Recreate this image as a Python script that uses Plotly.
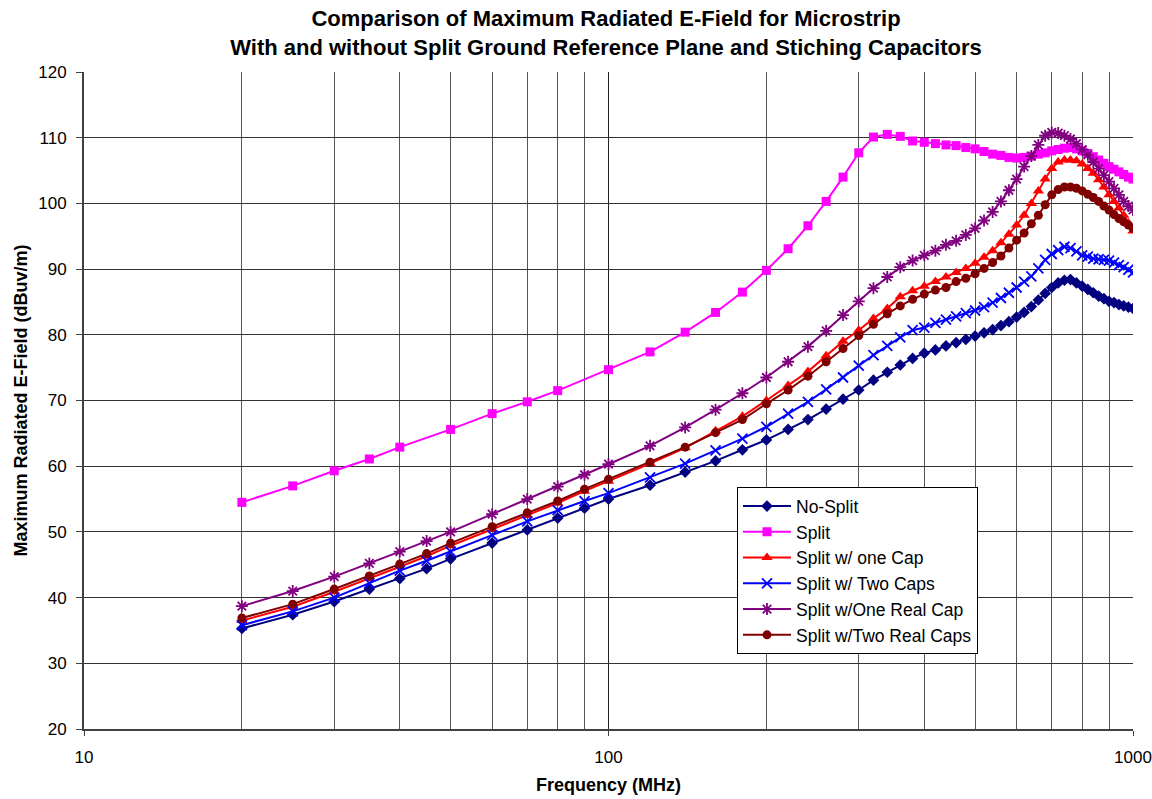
import plotly.graph_objects as go

# Frequencies (MHz)
freq = [20, 25, 30, 35, 40, 45, 50, 60, 70, 80, 90, 100,
        120, 140, 160, 180, 200, 220, 240, 260, 280,
        300, 320, 340, 360, 380, 400, 420, 440, 460, 480, 500, 520, 540, 560, 580,
        600, 620, 640, 660, 680, 700, 720, 740, 760, 780, 800, 820, 840, 860, 880,
        900, 920, 940, 960, 980, 1000]
freq_split = [20, 25, 30, 35, 40, 50, 60, 70, 80, 100,
              120, 140, 160, 180, 200, 220, 240, 260, 280,
              300, 320, 340, 360, 380, 400, 420, 440, 460, 480, 500, 520, 540, 560, 580,
              600, 620, 640, 660, 680, 700, 720, 740, 760, 780, 800, 820, 840, 860, 880,
              900, 920, 940, 960, 980, 1000]

no_split = [35.3, 37.4, 39.4, 41.3, 42.9, 44.4, 45.9, 48.3, 50.3, 52.1, 53.6, 55.0,
            57.1, 59.1, 60.8, 62.5, 64.0, 65.6, 67.1, 68.7, 70.2,
            71.6, 73.1, 74.3, 75.4, 76.4, 77.2, 77.7, 78.3, 78.8, 79.3, 79.8, 80.3, 80.8, 81.4, 82.0,
            82.7, 83.4, 84.3, 85.3, 86.3, 87.2, 87.9, 88.3, 88.4, 87.9, 87.4, 86.9, 86.4, 85.9, 85.5,
            85.1, 84.9, 84.6, 84.4, 84.2, 84.0]
split = [54.5, 57.0, 59.3, 61.1, 62.9, 65.6, 68.0, 69.8, 71.5, 74.7,
         77.4, 80.4, 83.4, 86.5, 89.8, 93.1, 96.6, 100.3, 104.0,
         107.7, 110.1, 110.5, 110.2, 109.5, 109.3, 109.1, 108.9, 108.8, 108.5, 108.3, 107.9, 107.5, 107.3, 107.0,
         106.9, 107.0, 107.2, 107.5, 107.7, 108.0, 108.2, 108.4, 108.5, 108.3, 108.0, 107.6, 107.1, 106.6, 106.1,
         105.6, 105.2, 104.8, 104.4, 104.0, 103.7]
one_cap = [36.5, 38.6, 40.9, 42.9, 44.7, 46.3, 47.9, 50.4, 52.5, 54.4, 56.2, 57.7,
           60.4, 62.8, 65.4, 67.6, 70.0, 72.3, 74.4, 76.8, 79.0,
           80.7, 82.5, 84.0, 85.8, 86.7, 87.4, 88.1, 88.8, 89.5, 90.1, 90.9, 91.8, 92.8, 94.0, 95.3,
           96.7, 98.2, 100.0, 101.9, 103.7, 105.3, 106.3, 106.6, 106.6, 106.5, 106.0, 105.3, 104.6, 103.6, 102.5,
           101.3, 100.3, 99.3, 98.2, 97.0, 95.8]
two_caps = [35.8, 37.9, 40.0, 42.2, 44.1, 45.6, 47.0, 49.5, 51.6, 53.3, 54.7, 55.9,
            58.3, 60.4, 62.4, 64.2, 66.0, 68.0, 69.8, 71.7, 73.5,
            75.3, 76.9, 78.3, 79.6, 80.7, 81.1, 81.8, 82.3, 82.8, 83.3, 83.7, 84.2, 84.9, 85.6, 86.4,
            87.2, 88.1, 88.9, 90.1, 91.4, 92.3, 92.9, 93.4, 93.2, 92.7, 92.1, 91.9, 91.6, 91.5, 91.4,
            91.3, 91.0, 90.6, 90.3, 89.9, 89.5]
one_real = [38.7, 41.0, 43.2, 45.2, 47.0, 48.6, 50.0, 52.7, 55.0, 56.9, 58.7, 60.3,
            63.1, 65.9, 68.6, 71.1, 73.5, 75.9, 78.2, 80.6, 83.0,
            85.1, 87.1, 88.8, 90.3, 91.3, 92.1, 92.8, 93.7, 94.3, 95.2, 96.2, 97.4, 98.7, 100.3, 102.0,
            103.7, 105.6, 107.2, 108.9, 110.3, 110.8, 110.7, 110.3, 109.8, 109.1, 108.2, 107.4, 106.3, 105.3, 104.3,
            103.3, 102.3, 101.3, 100.3, 99.6, 99.0]
two_real = [36.9, 39.0, 41.3, 43.3, 45.1, 46.7, 48.3, 50.8, 52.9, 54.7, 56.5, 58.0,
            60.6, 62.9, 65.1, 67.1, 69.5, 71.6, 73.7, 75.9, 77.9,
            79.9, 81.6, 83.2, 84.4, 85.4, 86.2, 86.8, 87.2, 88.1, 88.6, 89.3, 90.1, 91.0, 92.0, 93.2,
            94.4, 95.5, 96.9, 98.2, 99.8, 101.3, 102.1, 102.5, 102.5, 102.3, 101.9, 101.4, 100.9, 100.3, 99.6,
            99.0, 98.3, 97.7, 97.2, 96.7, 96.2]

x_ticks = [10, 100, 1000]
x_ticktext = ["10", "100", "1000"]
minor_vals = [20, 30, 40, 50, 60, 70, 80, 90, 200, 300, 400, 500, 600, 700, 800, 900]

names = ["No-Split", "Split", "Split w/ one Cap", "Split w/ Two Caps",
         "Split w/One Real Cap", "Split w/Two Real Caps"]
xs = [freq, freq_split, freq, freq, freq, freq]
ys = [no_split, split, one_cap, two_caps, one_real, two_real]
colors = ["#000080", "#FF00FF", "#FF0000", "#0000FF", "#800080", "#800000"]
symbols = ["diamond", "square", "triangle-up", "x-thin-open", "asterisk-open", "circle"]
sizes = [9, 9, 10, 10, 10, 9]

FONT = "Liberation Sans, Arial, sans-serif"

fig = go.Figure()
for n, x, y, c, s, sz in zip(names, xs, ys, colors, symbols, sizes):
    marker = dict(color=c, symbol=s, size=sz)
    if s.endswith("open"):
        marker["line"] = dict(color=c, width=1.8)
    else:
        marker["line"] = dict(width=0)
    fig.add_trace(go.Scatter(x=x, y=y, name=n, mode="lines+markers",
                             line=dict(color=c, width=2), marker=marker))

fig.update_layout(
    width=1152, height=799,
    paper_bgcolor="white", plot_bgcolor="white",
    margin=dict(l=84, r=19, t=72, b=70, autoexpand=False),
    font=dict(family=FONT, color="black", size=17),
    title=dict(text="<b>Comparison of Maximum Radiated E-Field for Microstrip<br>With and without Split Ground Reference Plane and Stiching Capacitors</b>",
               x=(606 / 1152), xanchor="center", xref="container",
               y=1 - 26 / 799, yanchor="middle", yref="container",
               font=dict(size=22, family=FONT)),
    showlegend=True,
    legend=dict(x=0.6225, y=0.368, xanchor="left", yanchor="top",
                bordercolor="black", borderwidth=1, bgcolor="white",
                font=dict(size=17.5), tracegroupgap=0, itemwidth=48),
    xaxis=dict(type="log", range=[1, 3], tickvals=x_ticks, ticktext=x_ticktext,
               showgrid=True, gridcolor="#222222", gridwidth=1,
               minor=dict(tickvals=minor_vals, showgrid=True, gridcolor="#555555", gridwidth=1),
               showline=True, linecolor="#404040", linewidth=2, mirror=False,
               ticks="outside", ticklen=5, tickcolor="#404040",
               tickfont=dict(size=17), ticklabelstandoff=7, automargin=False,
               title=dict(text="<b>Frequency (MHz)</b>", font=dict(size=18), standoff=12),
               zeroline=False),
    yaxis=dict(range=[20, 120], dtick=10, showgrid=True, gridcolor="#333333", gridwidth=1,
               showline=True, linecolor="#404040", linewidth=2,
               ticks="outside", ticklen=6, tickcolor="#404040", tickfont=dict(size=17),
               ticklabelstandoff=6, automargin=False,
               title=dict(text="<b>Maximum Radiated E-Field (dBuv/m)</b>", font=dict(size=18), standoff=6),
               zeroline=False),
)

fig.write_html("out.html")
